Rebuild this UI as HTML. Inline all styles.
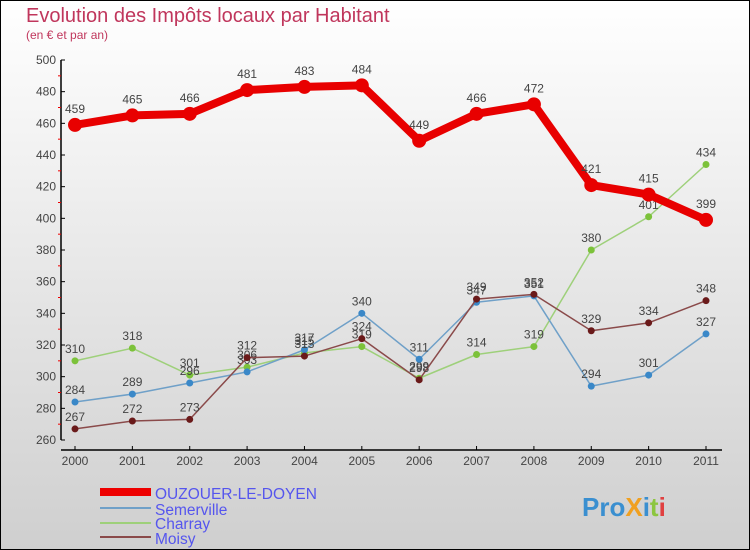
<!DOCTYPE html>
<html><head><meta charset="utf-8"><style>
body{margin:0;width:750px;height:550px;overflow:hidden}
svg{display:block;font-family:"Liberation Sans",sans-serif}
</style></head><body>
<svg id="c" width="750" height="550">
<defs><linearGradient id="bg" x1="0" y1="0" x2="0" y2="1"><stop offset="0" stop-color="#ffffff"/><stop offset="1" stop-color="#cfcfcf"/></linearGradient></defs>
<rect x="0.5" y="0.5" width="749" height="549" fill="url(#bg)" stroke="#000"/>
<text x="26" y="22" font-size="20" fill="#c0365c">Evolution des Impôts locaux par Habitant</text>
<text x="26" y="39" font-size="12" fill="#c0365c">(en € et par an)</text>
<g id="axes"></g><g id="series"></g>
<g>
<rect x="100" y="488" width="51" height="8" fill="#e00"/>
<text x="155" y="499" font-size="15.5" fill="#5555ee">OUZOUER-LE-DOYEN</text>
<rect x="100" y="507" width="51" height="2" fill="#6fa0c8"/>
<text x="155" y="515" font-size="15.5" fill="#5555ee">Semerville</text>
<rect x="100" y="522" width="51" height="2" fill="#9ed07a"/>
<text x="155" y="529" font-size="15.5" fill="#5555ee">Charray</text>
<rect x="100" y="536" width="51" height="2" fill="#8a4a4a"/>
<text x="155" y="544" font-size="15.5" fill="#5555ee">Moisy</text>
</g>
<g font-size="26" font-weight="bold">
<text x="582" y="516"><tspan fill="#3a8fd0">Pro</tspan><tspan fill="#f0a020">X</tspan><tspan fill="#3a8fd0">i</tspan><tspan fill="#8cc63f">t</tspan><tspan fill="#e04040">i</tspan></text>
</g>
</svg>
<script>
const years=["2000","2001","2002","2003","2004","2005","2006","2007","2008","2009","2010","2011"];
const yTicks=[260,280,300,320,340,360,380,400,420,440,460,480,500];
const ouzouer=[459,465,466,481,483,484,449,466,472,421,415,399];
const semerville=[284,289,296,303,317,340,311,347,351,294,301,327];
const charray=[310,318,301,306,315,319,299,314,319,380,401,434];
const moisy=[267,272,273,312,313,324,298,349,352,329,334,348];
const NS="http://www.w3.org/2000/svg";
const X=i=>75+i*(706-75)/11;
const Y=v=>440-(v-260)*380/240;
function mk(t,a,p){const e=document.createElementNS(NS,t);for(const k in a)e.setAttribute(k,a[k]);p.appendChild(e);return e;}
const ax=document.getElementById('axes');
const ya=mk('line',{x1:61,y1:60,x2:61,y2:440,stroke:'#000','stroke-width':1.5},ax);


yTicks.forEach((v,i)=>{
  mk('line',{x1:61,y1:Y(v),x2:65,y2:Y(v),stroke:'#000'},ax);
  if(i<yTicks.length-1)mk('line',{x1:58,y1:Y(v+10),x2:61,y2:Y(v+10),stroke:'#e00'},ax);
  const t=mk('text',{x:56,y:Y(v)+4,'text-anchor':'end','font-size':12,fill:'#444'},ax);
  t.textContent=v;
  
  
});
const xa=mk('line',{x1:61,y1:450,x2:722,y2:450,stroke:'#000','stroke-width':1.5},ax);


years.forEach((y,i)=>{
  mk('line',{x1:X(i),y1:446,x2:X(i),y2:450,stroke:'#000'},ax);
  const t=mk('text',{x:X(i),y:465,'text-anchor':'middle','font-size':12,fill:'#444'},ax);
  t.textContent=y;
  
  
});
const sg=document.getElementById('series');
function series(name,data,color,w,r,dot,lab){
  const g=mk('g',{},sg);
  
  
  mk('polyline',{points:data.map((v,i)=>X(i)+','+Y(v)).join(' '),fill:'none',stroke:color,'stroke-width':w,'stroke-linejoin':'round'},g);
  data.forEach((v,i)=>{
    const c=mk('circle',{cx:X(i),cy:Y(v),r:r,fill:dot},g);
    
    
    const t=mk('text',{x:X(i),y:Y(v)-(lab||8),'text-anchor':'middle','font-size':12,fill:'#444'},g);
    t.textContent=v;
    
    
  });
}
series('charray',charray,'#9ed07a',1.5,3.5,'#7cc23a');
series('semerville',semerville,'#6fa0c8',1.5,3.5,'#3a88c8');
series('moisy',moisy,'#8a4a4a',1.5,3.5,'#6a1a1a');
series('ouzouer',ouzouer,'#e80000',8,7,'#e80000',12);
</script>
</body></html>
